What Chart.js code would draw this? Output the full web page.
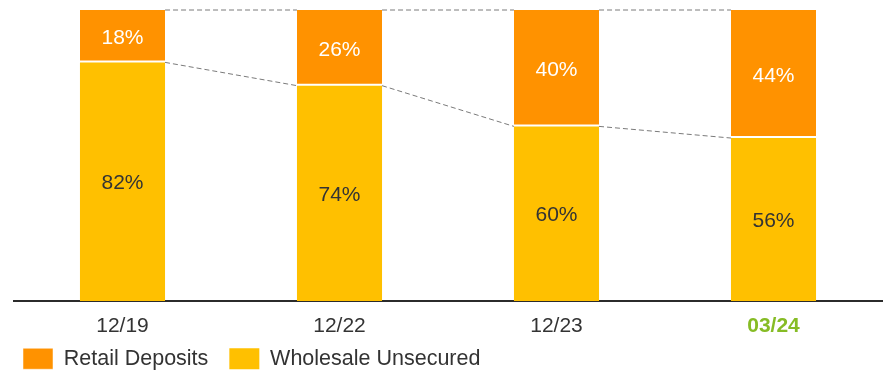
<!DOCTYPE html>
<html>
<head>
<meta charset="utf-8">
<script src="https://cdn.jsdelivr.net/npm/chart.js@4/dist/chart.umd.min.js"></script>
<style>
  html, body { margin: 0; padding: 0; background: #fff; }
  #wrap { width: 888px; height: 373px; position: relative; }
</style>
</head>
<body>
<div id="wrap"><canvas id="myChart" width="888" height="373"></canvas></div>
<script>
const periods = ['12/19', '12/22', '12/23', '03/24'];
const retailDeposits = [18, 26, 40, 44];
const wholesaleUnsecured = [82, 74, 60, 56];

const orange = '#FF9200';
const yellow = '#FFC000';
const textDark = '#333333';
const green = '#86BC25';

// dashed links between neighbouring bars plus the % labels in each segment
const barExtras = {
    id: 'barExtras',
    afterLayout(chart){
        // pull the legend row up a bit so it sits right under the tick labels
        const lg = chart.legend;
        lg.top = 327;
        lg.bottom = 373;
        lg.height = 46;
    },
    afterDatasetsDraw(chart){
        const ctx = chart.ctx;
        const retailMeta = chart.getDatasetMeta(1);
        const wholesaleMeta = chart.getDatasetMeta(0);

        ctx.save();
        ctx.strokeStyle = '#7a7a7a';
        ctx.lineWidth = 1;
        ctx.setLineDash([5, 3]);
        for(let i = 0; i < retailMeta.data.length - 1; i++){
            const a = retailMeta.data[i];
            const b = retailMeta.data[i + 1];
            const x1 = a.x + a.width / 2;
            const x2 = b.x - b.width / 2;
            ctx.beginPath();
            ctx.moveTo(x1, a.y);
            ctx.lineTo(x2, b.y);
            ctx.moveTo(x1, a.base);
            ctx.lineTo(x2, b.base);
            ctx.stroke();
        }
        ctx.setLineDash([]);

        ctx.font = '21px "Liberation Sans", Arial, sans-serif';
        ctx.textAlign = 'center';
        ctx.textBaseline = 'middle';
        retailMeta.data.forEach((el, i)=>{
            ctx.fillStyle = '#ffffff';
            ctx.fillText(retailDeposits[i] + '%', el.x, (el.y + el.base) / 2 + 2);
        });
        wholesaleMeta.data.forEach((el, i)=>{
            ctx.fillStyle = textDark;
            ctx.fillText(wholesaleUnsecured[i] + '%', el.x, (el.y + el.base) / 2 + 2);
        });
        ctx.restore();
    }
};

const ctx = document.getElementById('myChart');
new Chart(ctx, {
    type: 'bar',
    data: {
        labels: periods,
        datasets: [
            {
                label: 'Wholesale Unsecured',
                data: wholesaleUnsecured,
                backgroundColor: yellow,
                borderWidth: 0
            },
            {
                label: 'Retail Deposits',
                data: retailDeposits,
                backgroundColor: orange,
                borderColor: '#ffffff',
                borderWidth: {bottom: 2, top: 0, left: 0, right: 0},
                borderSkipped: false
            }
        ]
    },
    options: {
        responsive: false,
        animation: false,
        devicePixelRatio: 1,
        layout: {
            padding: {left: 2, right: 6, top: 10, bottom: 0}
        },
        datasets: {
            bar: {
                barPercentage: 0.392,
                categoryPercentage: 1
            }
        },
        scales: {
            x: {
                stacked: true,
                grid: {display: false, drawTicks: false},
                border: {display: true, color: '#2b2b2b', width: 2},
                ticks: {
                    padding: 13,
                    font: (c)=>({
                        family: '"Liberation Sans", Arial, sans-serif',
                        size: 21,
                        weight: c.index === 3 ? 'bold' : 'normal'
                    }),
                    color: (c)=> c.index === 3 ? green : textDark
                },
                afterFit: (scale)=>{ scale.height = 36; }
            },
            y: {
                stacked: true,
                min: 0,
                max: 100,
                grid: {display: false},
                border: {display: false},
                ticks: {display: false},
                afterFit: (scale)=>{ scale.width = 12; }
            }
        },
        plugins: {
            legend: {
                position: 'bottom',
                align: 'start',
                reverse: true,
                maxHeight: 36,
                labels: {
                    boxWidth: 30,
                    boxHeight: 21,
                    padding: 21,
                    color: textDark,
                    font: {family: '"Liberation Sans", Arial, sans-serif', size: 21.5}
                }
            },
            tooltip: {enabled: false}
        }
    },
    plugins: [barExtras]
});
</script>
</body>
</html>
